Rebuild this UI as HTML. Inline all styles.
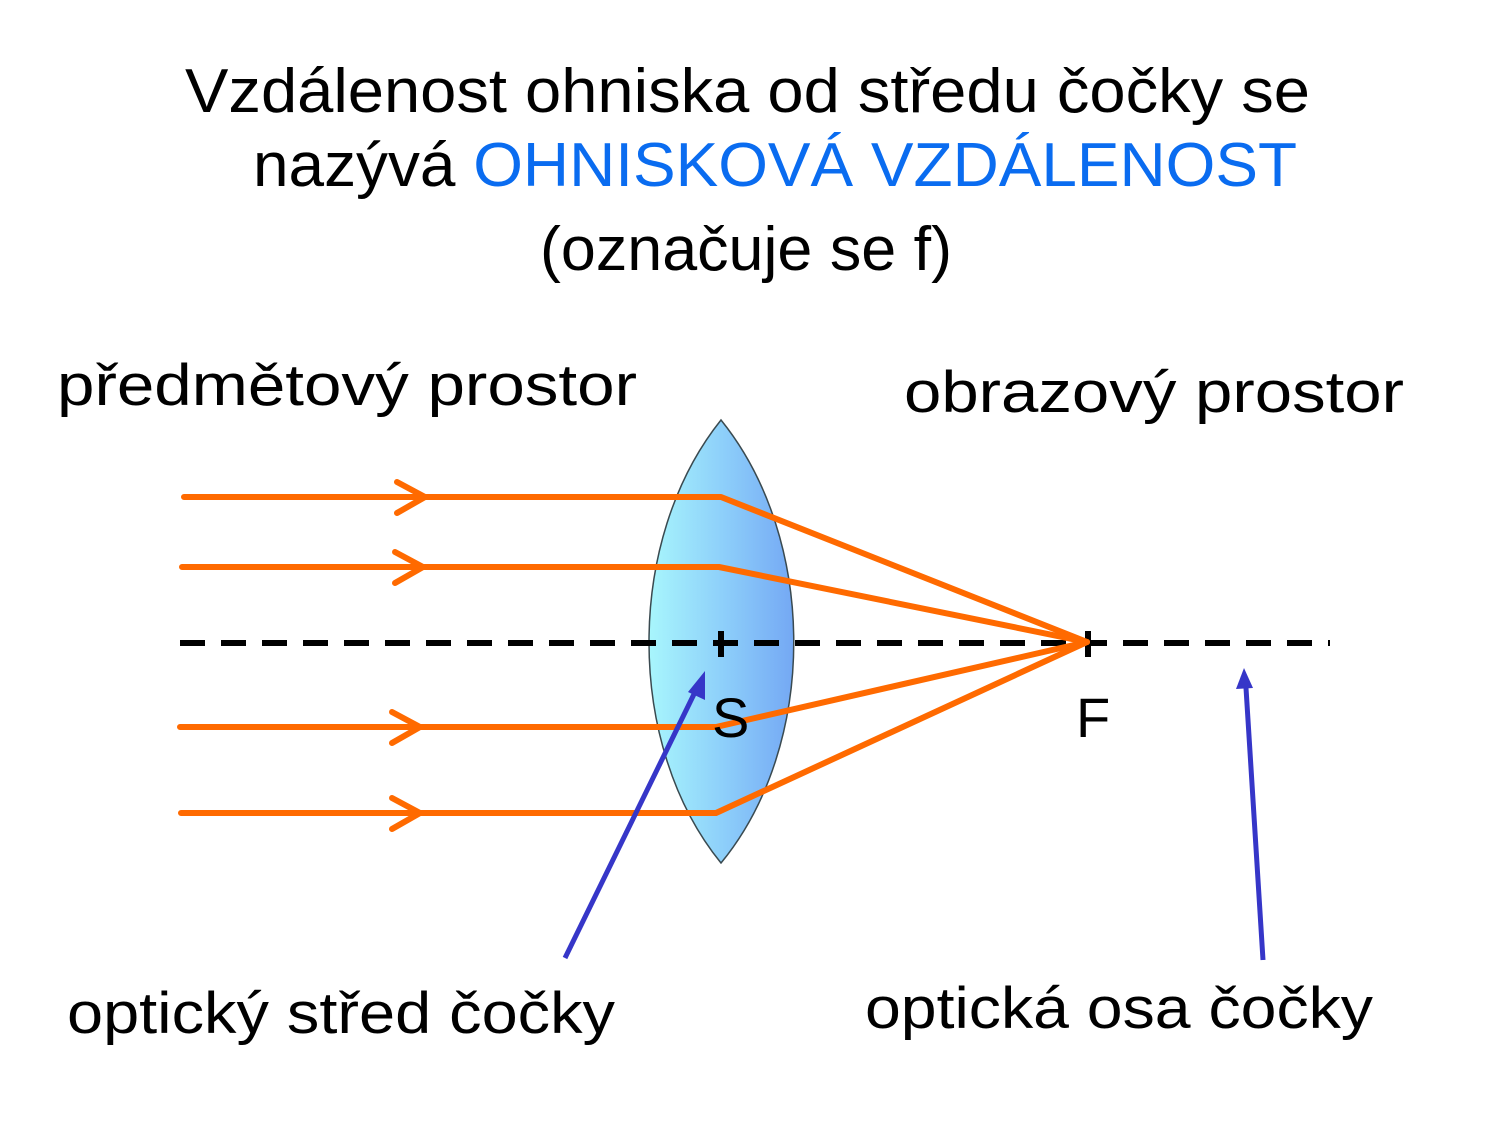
<!DOCTYPE html>
<html><head><meta charset="utf-8"><style>
html,body{margin:0;padding:0;background:#fff;}
svg{display:block;}
text{font-family:"Liberation Sans","DejaVu Sans",sans-serif;fill:#000;}
</style></head><body>
<svg width="1500" height="1125" viewBox="0 0 1500 1125" xmlns="http://www.w3.org/2000/svg">
<defs>
<linearGradient id="lg" x1="0" x2="1" y1="0" y2="0">
<stop offset="0" stop-color="#a8f6fc"/>
<stop offset="0.5" stop-color="#8ed0fa"/>
<stop offset="1" stop-color="#74a8f4"/>
</linearGradient>
</defs>
<text x="185" y="112" font-size="62" textLength="1125" lengthAdjust="spacingAndGlyphs">Vzdálenost ohniska od středu čočky se</text>
<text x="253" y="186" font-size="62" textLength="1044" lengthAdjust="spacingAndGlyphs">nazývá <tspan fill="#0a6cf0" style="fill:#0a6cf0">OHNISKOVÁ VZDÁLENOST</tspan></text>
<text x="540" y="270" font-size="62" textLength="412" lengthAdjust="spacingAndGlyphs">(označuje se f)</text>
<text x="57" y="405" font-size="58" textLength="580" lengthAdjust="spacingAndGlyphs">předmětový prostor</text>
<text x="904" y="412" font-size="58" textLength="500" lengthAdjust="spacingAndGlyphs">obrazový prostor</text>
<text x="67" y="1033" font-size="58" textLength="548" lengthAdjust="spacingAndGlyphs">optický střed čočky</text>
<text x="865" y="1028" font-size="58" textLength="508" lengthAdjust="spacingAndGlyphs">optická osa čočky</text>

<path d="M721,420 C625,540 625,745 721,863 C818,745 818,540 721,420 Z" fill="url(#lg)" stroke="#3a4a50" stroke-width="1.5"/>

<line x1="180" y1="643" x2="1330" y2="643" stroke="#000" stroke-width="6" stroke-dasharray="25 16"/>
<line x1="721" y1="631" x2="721" y2="657" stroke="#000" stroke-width="6"/>
<line x1="1088" y1="631" x2="1088" y2="657" stroke="#000" stroke-width="6"/>

<g stroke="#ff6a00" stroke-width="6" fill="none" stroke-linecap="round" stroke-linejoin="round">
<polyline points="184,497 721,497 1087,642"/>
<polyline points="182,567 719,567 1087,642"/>
<polyline points="180,727 716,727 1087,642"/>
<polyline points="181,813 716,813 1087,642"/>
<polyline points="397,482 425,497 397,513"/>
<polyline points="395,552 423,567 395,583"/>
<polyline points="392,712 420,727 392,743"/>
<polyline points="392,798 420,813 392,829"/>
</g>

<text x="712" y="737" font-size="56">S</text>
<text x="1076" y="737" font-size="56">F</text>

<g stroke="#3636c8" stroke-width="5" fill="#3636c8">
<line x1="565" y1="958" x2="697" y2="688"/>
<polygon points="705,671 705,700 688,692" stroke="none"/>
<line x1="1263" y1="960" x2="1246" y2="688"/>
<polygon points="1244,668 1253,688 1236,689" stroke="none"/>
</g>
</svg>
</body></html>
